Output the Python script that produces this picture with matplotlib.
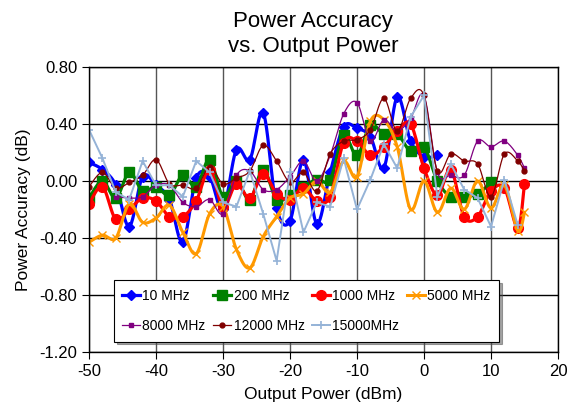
import numpy as np
import matplotlib.pyplot as plt

plt.rcParams['font.family'] = ['Liberation Sans', 'DejaVu Sans']
plt.rcParams['axes.unicode_minus'] = False

# output power steps (dBm)
power = list(range(-50, 15, 2)) + [15]

# power accuracy (dB) per frequency
acc_10 = [0.13, 0.08, -0.03, -0.32, 0.03, -0.03, -0.13, -0.43, 0.02, 0.03,
          -0.20, 0.22, 0.15, 0.48, -0.19, -0.28, 0.15, -0.30, 0.06, 0.38,
          0.37, 0.31, 0.09, 0.59, 0.28, 0.17, 0.18]
acc_200 = [-0.12, 0.00, -0.12, 0.06, -0.07, -0.04, -0.10, 0.04, -0.04, 0.15,
           -0.11, 0.00, -0.13, 0.08, -0.13, -0.10, -0.04, 0.01, 0.01, 0.32,
           0.18, 0.39, 0.33, 0.33, 0.21, 0.24, 0.00, -0.11, -0.11, -0.09, -0.01]
acc_1000 = [-0.16, -0.04, -0.27, -0.20, -0.12, -0.14, -0.25, -0.25, -0.14, 0.08,
            -0.18, -0.02, -0.12, 0.05, -0.09, -0.13, -0.05, -0.14, -0.11, 0.27,
            0.28, 0.18, 0.24, 0.35, 0.40, 0.09, -0.10, 0.08, -0.25, -0.25,
            -0.07, -0.05, -0.33, -0.02]
acc_5000 = [-0.43, -0.38, -0.40, -0.16, -0.29, -0.26, -0.17, -0.36, -0.51, -0.23,
            -0.18, -0.48, -0.61, -0.39, -0.25, -0.12, -0.09, 0.00, -0.08, 0.14,
            0.03, 0.42, 0.43, 0.24, -0.20, 0.00, -0.22, -0.05, -0.20, 0.00,
            -0.19, -0.03, -0.35, -0.22]
acc_8000 = [-0.11, -0.12, -0.11, -0.03, -0.03, -0.15, -0.18, -0.13,
            -0.23, 0.04, 0.07, -0.06, -0.06, 0.03, 0.14, 0.00, 0.18, 0.47,
            0.55, 0.28, 0.43, 0.35, 0.44, 0.60, 0.06, 0.04, 0.04, 0.28,
            0.24, 0.28, 0.18, 0.09]
acc_12000 = [-0.04, 0.06, -0.05, -0.01, 0.04, 0.15, -0.02, -0.03, -0.05, 0.10,
             -0.02, 0.02, 0.07, 0.25, 0.14, -0.01, 0.06, -0.07, 0.19, 0.28,
             0.29, 0.36, 0.58, 0.35, 0.58, 0.60, 0.07, 0.19, 0.14, 0.12,
             -0.11, 0.19, 0.14, 0.07]
acc_15000 = [0.36, 0.16, -0.08, -0.13, 0.14, -0.03, -0.03, -0.11, 0.14, 0.06,
             -0.15, -0.18, 0.07, -0.23, -0.56, 0.06, -0.36, -0.15, -0.18, 0.16,
             -0.20, 0.01, 0.26, 0.09, 0.45, 0.60, -0.11, 0.12, -0.06, -0.12,
             -0.32, 0.01, -0.31]


def smooth(x, y, n=12):
    # Excel-style smoothed line: bezier segments through every point
    x = np.asarray(x, float)
    y = np.asarray(y, float)
    px = np.concatenate([[x[0]], x, [x[-1]]])
    py = np.concatenate([[y[0]], y, [y[-1]]])
    t = np.linspace(0, 1, n, endpoint=False)[:, None]
    out = []
    for i in range(len(x) - 1):
        p0 = np.array([px[i], py[i]])
        p1 = np.array([px[i + 1], py[i + 1]])
        p2 = np.array([px[i + 2], py[i + 2]])
        p3 = np.array([px[i + 3], py[i + 3]])
        c1 = p1 + (p2 - p0) / 6
        c2 = p2 - (p3 - p1) / 6
        seg = ((1 - t) ** 3 * p1 + 3 * (1 - t) ** 2 * t * c1
               + 3 * (1 - t) * t ** 2 * c2 + t ** 3 * p2)
        out.append(seg)
    out.append(np.array([[x[-1], y[-1]]]))
    pts = np.vstack(out)
    return pts[:, 0], pts[:, 1], list(range(0, len(pts), n))


fig = plt.figure(figsize=(5.83, 4.09), dpi=100)
ax = fig.add_axes([0.1527, 0.1394, 0.8044, 0.6968])

series = [
    ('10 MHz', power[:27], acc_10, dict(color='#0000FF', lw=2.3, marker='D', ms=5.5)),
    ('200 MHz', power[:31], acc_200, dict(color='#008000', lw=2.3, marker='s', ms=6.5)),
    ('1000 MHz', power, acc_1000, dict(color='#FF0000', lw=2.3, marker='o', ms=7)),
    ('5000 MHz', power, acc_5000, dict(color='#FF9900', lw=2.2, marker='x', ms=6, mew=1)),
    ('8000 MHz', power[2:], acc_8000, dict(color='#800080', lw=0.9, marker='s', ms=2.5)),
    ('12000 MHz', power, acc_12000, dict(color='#800000', lw=0.9, marker='o', ms=3.5)),
]

handles = {}
for name, xs, ys, st in series:
    sx, sy, idx = smooth(xs, ys)
    h, = ax.plot(sx, sy, markevery=idx, label=name, **st)
    handles[name] = h

h, = ax.plot(power[:33], acc_15000, color='#95B3D7', lw=1.4, marker='+', ms=6,
             mew=1.2, label='15000MHz')
handles['15000MHz'] = h

ax.set_xlim(-50, 20)
ax.set_ylim(-1.2, 0.8)
ax.set_xticks(range(-50, 21, 10))
ax.set_yticks(np.arange(-1.2, 0.81, 0.4))
ax.set_yticklabels(['%.2f' % v for v in np.arange(-1.2, 0.81, 0.4)])
ax.tick_params(labelsize=12, length=5, width=0.8, direction='out')
ax.grid(axis='y', color='black', lw=1)
ax.grid(axis='x', color='#555555', lw=1)
ax.set_axisbelow(True)
for s in ax.spines.values():
    s.set_color('black')
    s.set_linewidth(1)

ax.set_xlabel('Output Power (dBm)', fontsize=12.5, labelpad=6)
ax.set_ylabel('Power Accuracy (dB)', fontsize=12.5, labelpad=6)
fig.text(0.537, 0.917, 'Power Accuracy\nvs. Output Power', ha='center', va='center',
         fontsize=16, linespacing=1.3)

order = ['10 MHz', '8000 MHz', '200 MHz', '12000 MHz', '1000 MHz', '15000MHz', '5000 MHz']
leg = ax.legend([handles[k] for k in order], order, ncol=4, loc='center',
                bbox_to_anchor=(0.053, 0.032, 0.821, 0.224), mode='expand',
                borderaxespad=0, fontsize=10, handlelength=1.3, handletextpad=0.15,
                labelspacing=1.2, borderpad=0.6, fancybox=False, shadow=True,
                framealpha=1, edgecolor='black')
leg.get_frame().set_linewidth(0.8)

fig.savefig('out.png', dpi=100)
